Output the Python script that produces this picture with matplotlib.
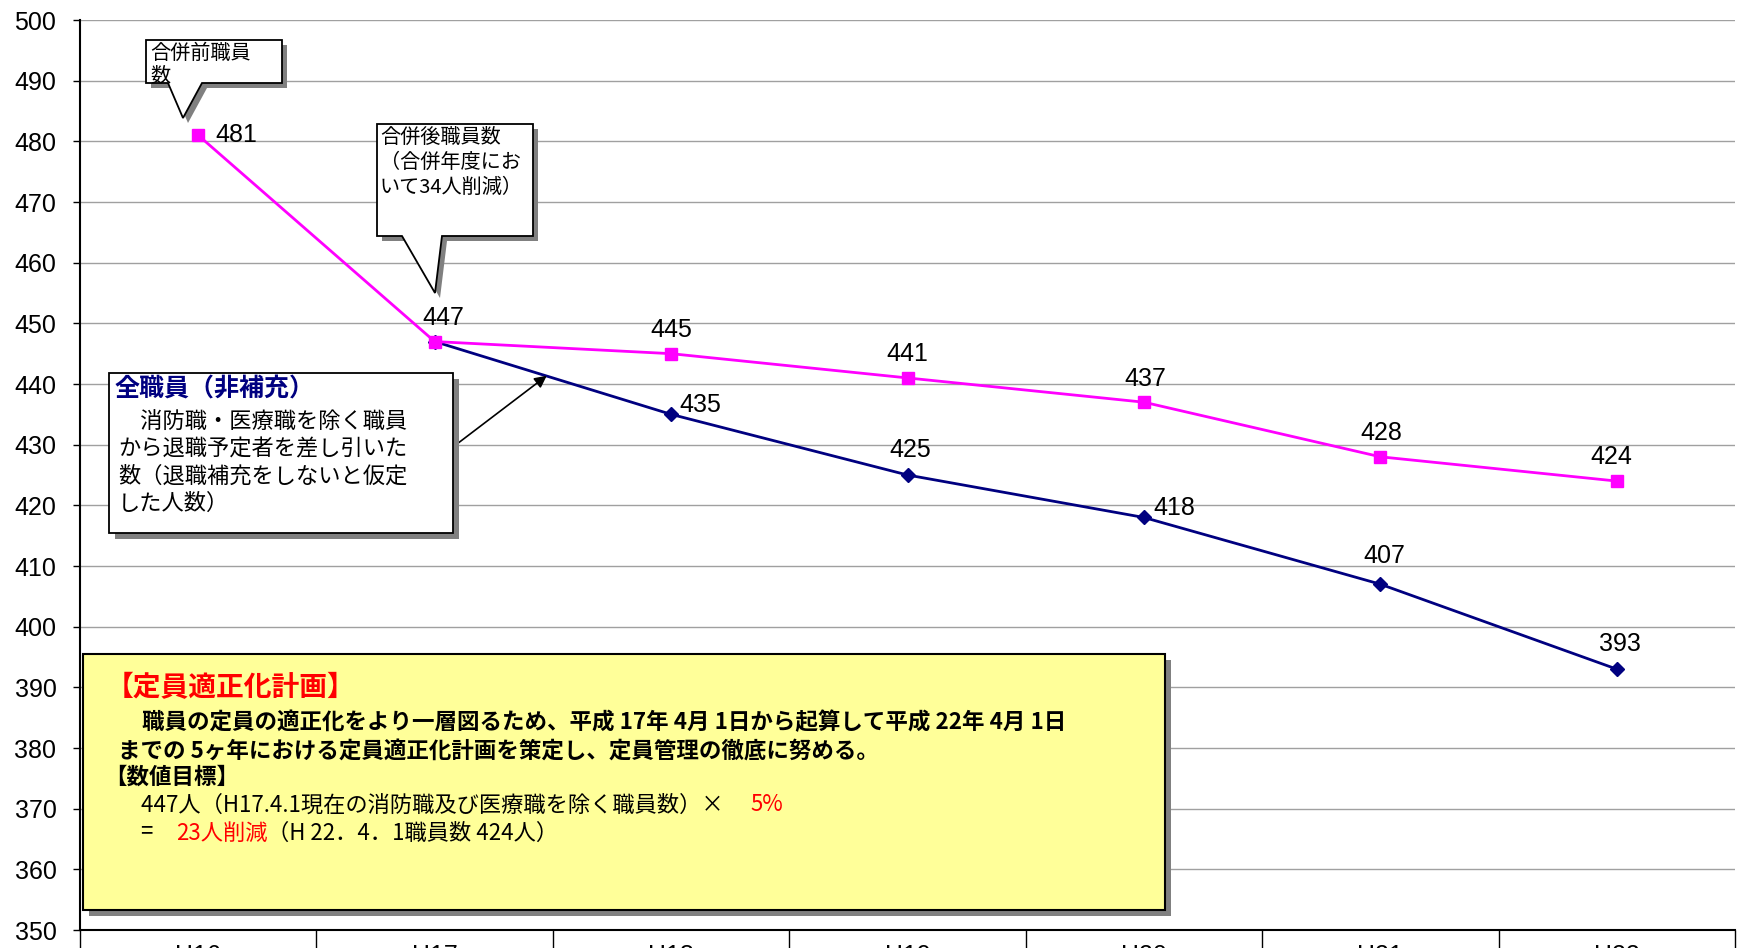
import numpy as np
import matplotlib
matplotlib.use('Agg')
import matplotlib.pyplot as plt
from matplotlib.patches import Polygon
from matplotlib.text import Annotation
from matplotlib.transforms import Affine2D

plt.rcParams['font.family'] = ['Noto Sans CJK JP', 'DejaVu Sans']

# ── data ─────────────────────────────────────────────
years = ['H16', 'H17', 'H18', 'H19', 'H20', 'H21', 'H22']
staff_plan = [481, 447, 445, 441, 437, 428, 424]            # 定員適正化計画
staff_no_refill = [np.nan, 447, 435, 425, 418, 407, 393]    # 全職員（非補充）

# label offsets (points) for each value
plan_off = [(12, 0, 'left'), (6, 17, 'center'), (0, 17, 'center'), (0, 17, 'center'),
            (1, 17, 'center'), (1, 17, 'center'), (-4, 17, 'center')]
nr_off = [None, None, (6, 7, 'left'), (2, 18, 'center'), (7, 7, 'left'),
          (3, 20, 'center'), (2, 18, 'center')]

W, H = 1744, 948
fig = plt.figure(figsize=(W / 100, H / 100), dpi=100)
ax = fig.add_axes([80 / W, 1 - 930 / H, 1655 / W, 910 / H])
# pixel coordinates, origin top-left
pix = Affine2D().scale(1 / W, -1 / H).translate(0, 1) + fig.transFigure

x = np.arange(len(years))
ax.plot(x, staff_no_refill, color='#000080', lw=2, marker='D', ms=7, zorder=3, clip_on=False)
ax.plot(x, staff_plan, color='#ff00ff', lw=2, marker='s', ms=9, zorder=4, clip_on=False)

num_font = dict(family='Liberation Sans', fontsize=18, color='black')
for i, v in enumerate(staff_plan):
    dx, dy, ha = plan_off[i]
    ax.annotate(str(v), (i, v), xytext=(dx, dy), textcoords='offset points',
                ha=ha, va='center', zorder=6, **num_font)
for i, v in enumerate(staff_no_refill):
    if nr_off[i] is None:
        continue
    dx, dy, ha = nr_off[i]
    ax.annotate(str(int(v)), (i, v), xytext=(dx, dy), textcoords='offset points',
                ha=ha, va='center', zorder=6, **num_font)

ax.set_xlim(-0.5, 6.5)
ax.set_ylim(350, 500)
ax.set_yticks(range(350, 501, 10))
ax.set_yticklabels([str(t) for t in range(350, 501, 10)], family='Liberation Sans', fontsize=18)
ax.set_xticks(x)
ax.set_xticklabels(years, family='Liberation Sans', fontsize=18)
ax.set_xticks(np.arange(-0.5, 7, 1), minor=True)
ax.tick_params(axis='y', length=5, width=1, pad=12)
ax.tick_params(axis='x', which='major', length=0, pad=10)
ax.tick_params(axis='x', which='minor', length=20, width=1)
ax.grid(axis='y', color='#a0a0a0', lw=1)
ax.set_axisbelow(True)
for s in ['top', 'right']:
    ax.spines[s].set_visible(False)
ax.spines['left'].set_linewidth(1.5)
ax.spines['bottom'].set_linewidth(1.5)


def shape(pts, face, lw=1.3, off=6):
    sh = [(px + off, py + off) for px, py in pts]
    fig.add_artist(Polygon(sh, closed=True, transform=pix, fc='#808080', ec='none', zorder=5))
    fig.add_artist(Polygon(pts, closed=True, transform=pix, fc=face, ec='black', lw=lw, zorder=6))


def rect(x0, y0, x1, y1):
    return [(x0, y0), (x1, y0), (x1, y1), (x0, y1)]


def lines(x0, ys, texts, **kw):
    for yy, t in zip(ys, texts):
        fig.text(x0, yy, t, transform=pix, va='center', ha='left', zorder=7, **kw)


def after(prev, s, **kw):
    # text placed right after another text, on the figure level
    a = Annotation(s, xy=(1, 0), xycoords=prev, va='bottom', ha='left', zorder=7, **kw)
    fig.add_artist(a)
    return a


# callout: 合併前職員数
shape([(146, 40), (282, 40), (282, 83), (202, 83), (183, 118), (168, 83), (146, 83)], 'white', off=5)
lines(150, [53, 76], ['合併前職員', '数'], fontsize=14.5)

# callout: 合併後職員数
shape([(377, 124), (533, 124), (533, 236), (442, 236), (435, 293), (402, 236), (377, 236)], 'white', off=5)
lines(380, [137, 162, 187], ['合併後職員数', '（合併年度にお', 'いて34人削減）'], fontsize=14.5)

# box: 全職員（非補充）
shape(rect(109, 373, 453, 533), 'white')
fig.text(115, 389, '全職員（非補充）', transform=pix, va='center', ha='left',
         fontsize=18, fontweight='bold', color='#000080', zorder=7)
lines(118, [421, 449, 476, 503],
      ['　消防職・医療職を除く職員', 'から退職予定者を差し引いた',
       '数（退職補充をしないと仮定', 'した人数）'], fontsize=16)
ax.annotate('', xy=(549, 374), xycoords=pix, xytext=(453, 447), textcoords=pix,
            arrowprops=dict(arrowstyle='-|>', color='black', lw=1.2, mutation_scale=18),
            zorder=7)

# yellow box: 定員適正化計画
shape(rect(83, 654, 1165, 910), '#ffff99', lw=1.5)
fig.text(106, 688, '【定員適正化計画】', transform=pix, va='center', ha='left',
         fontsize=20, fontweight='bold', color='red', zorder=7)
lines(142, [723], ['職員の定員の適正化をより一層図るため、平成 17年 4月 1日から起算して平成 22年 4月 1日'],
      fontsize=16.2, fontweight='bold')
lines(118, [751], ['までの 5ヶ年における定員適正化計画を策定し、定員管理の徹底に努める。'],
      fontsize=16.2, fontweight='bold')
lines(104, [777], ['【数値目標】'], fontsize=16.2, fontweight='bold')

t1 = fig.text(141, 805, '447人（H17.4.1現在の消防職及び医療職を除く職員数）×　 ', transform=pix,
              va='center', ha='left', fontsize=16, zorder=7)
after(t1, '5%', fontsize=16, color='red')
t2 = fig.text(141, 833, '=　', transform=pix, va='center', ha='left', fontsize=16, zorder=7)
t3 = after(t2, '23人削減', fontsize=16, color='red')
after(t3, '（H 22．4．1職員数 424人）', fontsize=16, color='black')

fig.savefig('out.png', dpi=100)
